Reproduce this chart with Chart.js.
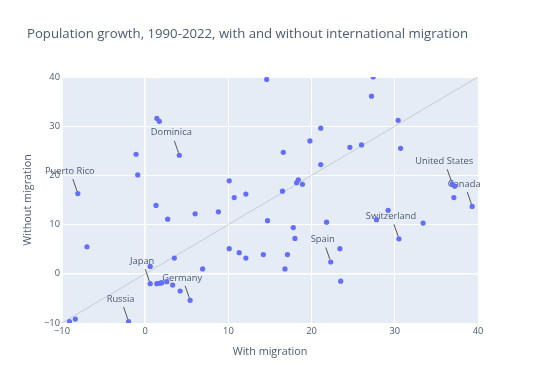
<!DOCTYPE html>
<html>
<head>
<meta charset="utf-8">
<script src="https://cdn.jsdelivr.net/npm/chart.js@4"></script>
<style>
html,body{margin:0;padding:0;background:#fff;}
canvas{display:block;}
</style>
</head>
<body>
<canvas id="c" width="540" height="386"></canvas>
<script>
const chartTitle = "Population growth, 1990-2022, with and without international migration";
const xAxisTitle = "With migration";
const yAxisTitle = "Without migration";
const tickValues = [-10, 0, 10, 20, 30, 40];

const countries = [
  "", "", "", "Puerto Rico", "Dominica", "", "", "", "",
  "", "", "", "", "", "", "", "", "", "", "",
  "", "", "", "", "United States", "", "", "Canada",
  "", "", "", "Switzerland", "", "",
  "", "", "", "", "", "", "", "", "", "", "", "Spain", "",
  "", "", "", "", "", "", "Japan", "", "", "", "", "", "", "Germany",
  "Russia", "", ""
];
const withMigration = [
  14.6, 27.4, 27.2, -8.1, 4.1, 1.4, 1.7, -1.1, -0.9,
  21.1, 19.8, 16.6, 21.1, 10.1, 18.4, 18.2, 18.9, 16.5, 12.1, 10.7,
  30.4, 26.0, 24.6, 30.7, 36.9, 37.2, 37.1, 39.3,
  29.2, 27.8, 33.4, 30.5, 23.4, 23.5,
  8.8, 14.7, 21.8, 17.8, 18.0, 10.1, 11.3, 12.1, 14.2, 17.1, 16.8, 22.3, 6.9,
  1.3, 2.7, 6.0, -7.0, 3.5, 0.6, 0.6, 1.4, 1.8, 2.0, 2.6, 3.3, 4.2, 5.4,
  -2.0, -9.1, -8.4
];
const withoutMigration = [
  39.5, 40.0, 36.1, 16.3, 24.1, 31.6, 31.0, 24.3, 20.1,
  29.6, 27.0, 24.7, 22.2, 18.9, 19.1, 18.5, 18.2, 16.8, 16.2, 15.5,
  31.2, 26.2, 25.7, 25.5, 18.3, 17.8, 15.5, 13.7,
  12.9, 11.0, 10.3, 7.1, 5.1, -1.5,
  12.6, 10.8, 10.5, 9.4, 7.2, 5.1, 4.3, 3.2, 3.9, 3.9, 1.0, 2.4, 1.0,
  13.9, 11.1, 12.2, 5.5, 3.2, 1.5, -2.0, -2.0, -1.9, -1.8, -1.6, -2.3, -3.5, -5.4,
  -9.7, -9.7, -9.2
];
const diagonalX = [-10, 40];
const diagonalY = [-10, 40];

const FONT = "'Open Sans', sans-serif";
const TEXT = "#4a5a72";

const points = withMigration.map((x, i) => ({x: x, y: withoutMigration[i]}));
const diagonal = diagonalX.map((x, i) => ({x: x, y: diagonalY[i]}));

const bgPlugin = {
  id: 'bg',
  beforeDraw(chart) {
    const {ctx, chartArea: a} = chart;
    ctx.save();
    ctx.fillStyle = '#E5ECF6';
    ctx.fillRect(a.left, a.top, a.right - a.left, a.bottom - a.top);
    ctx.restore();
  },
  afterDraw(chart) {
    const ctx = chart.ctx;
    ctx.save();
    ctx.font = "13.2px " + FONT;
    ctx.fillStyle = TEXT;
    ctx.textAlign = 'left';
    ctx.textBaseline = 'middle';
    ctx.fillText(chartTitle, 27, 34);
    ctx.restore();
  }
};

const annotationPlugin = {
  id: 'annot',
  beforeDatasetsDraw(chart) {
    const ctx = chart.ctx;
    const xs = chart.scales.x, ys = chart.scales.y;
    ctx.save();
    countries.forEach((name, i) => {
      if (!name) return;
      const px = xs.getPixelForValue(withMigration[i]);
      const py = ys.getPixelForValue(withoutMigration[i]);
      ctx.strokeStyle = '#555';
      ctx.lineWidth = 1;
      ctx.beginPath();
      ctx.moveTo(px - 5, py - 14.5);
      ctx.lineTo(px - 0.8, py - 2.5);
      ctx.stroke();
      ctx.font = "9.3px " + FONT;
      ctx.fillStyle = TEXT;
      ctx.textAlign = 'center';
      ctx.textBaseline = 'middle';
      ctx.fillText(name, px - 8, py - 22.5);
    });
    ctx.restore();
  }
};

const minus = v => (v < 0 ? '\u2212' + Math.abs(v) : String(v));
const gridColor = '#ffffff';
const gridWidth = c => (c.tick && c.tick.value === 0 ? 1.6 : 1);

new Chart(document.getElementById('c'), {
  type: 'scatter',
  data: {
    datasets: [
      {
        data: points,
        backgroundColor: '#636efa',
        borderWidth: 0,
        pointRadius: 2.6,
        pointHoverRadius: 2.6,
        clip: 0,
        order: 0
      },
      {
        type: 'line',
        data: diagonal,
        borderColor: 'rgba(160,165,175,0.45)',
        borderWidth: 1,
        pointRadius: 0,
        fill: false,
        order: 1
      }
    ]
  },
  options: {
    responsive: false,
    animation: false,
    devicePixelRatio: 1,
    layout: {padding: {top: 77, right: 62, left: 0, bottom: 0}},
    plugins: {legend: {display: false}, tooltip: {enabled: false}, title: {display: false}},
    scales: {
      x: {
        type: 'linear',
        min: -10, max: 40,
        afterBuildTicks: s => { s.ticks = tickValues.map(v => ({value: v})); },
        afterFit: s => { s.height = 63; },
        border: {display: false},
        grid: {color: gridColor, lineWidth: gridWidth, drawTicks: false},
        ticks: {color: TEXT, font: {family: FONT, size: 9.3}, padding: 3, maxRotation: 0, callback: minus},
        title: {display: true, text: xAxisTitle, color: TEXT, font: {family: FONT, size: 10.8}, padding: {top: 0, bottom: 27.5}}
      },
      y: {
        type: 'linear',
        min: -10, max: 40,
        afterBuildTicks: s => { s.ticks = tickValues.map(v => ({value: v})); },
        afterFit: s => { s.width = 62; },
        border: {display: false},
        grid: {color: gridColor, lineWidth: gridWidth, drawTicks: false},
        ticks: {color: TEXT, font: {family: FONT, size: 9.3}, padding: 2, callback: minus},
        title: {display: true, text: yAxisTitle, color: TEXT, font: {family: FONT, size: 10.8}, padding: {top: 21.5, bottom: 0}}
      }
    }
  },
  plugins: [bgPlugin, annotationPlugin]
});
</script>
</body>
</html>
